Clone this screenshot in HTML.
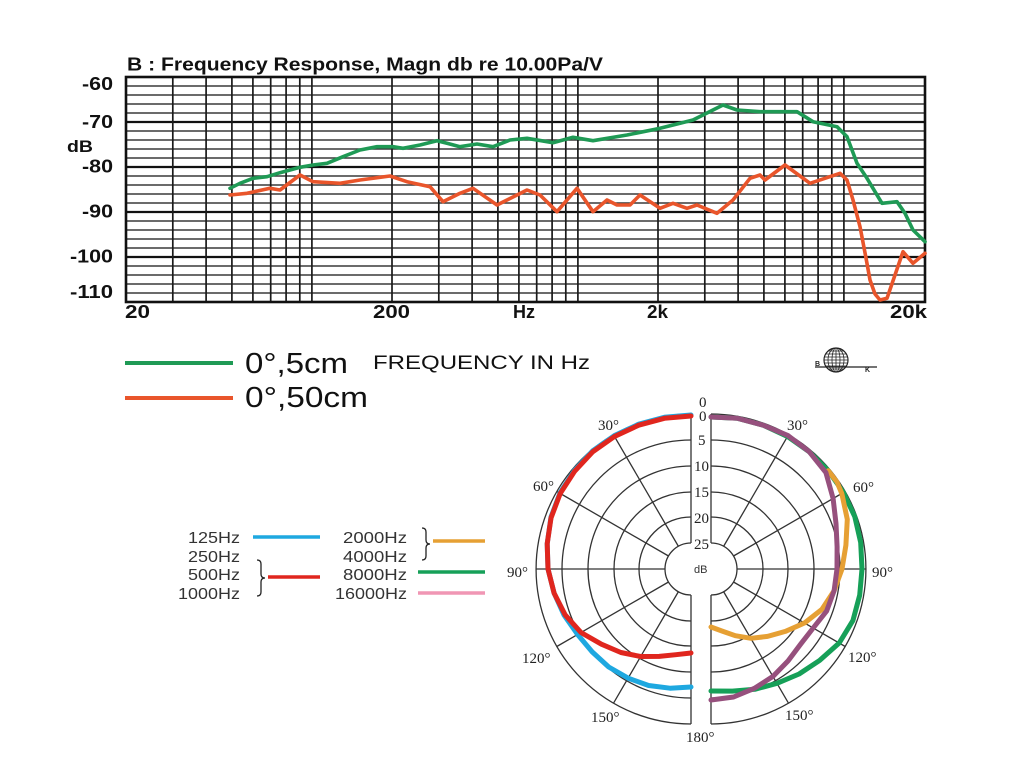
<!DOCTYPE html>
<html>
<head>
<meta charset="utf-8">
<style>
  html,body{margin:0;padding:0;background:#fff;}
  svg{display:block;}
  .ax{font-family:"Liberation Sans",sans-serif;font-weight:bold;fill:#111;}
  .lg{font-family:"Liberation Sans",sans-serif;fill:#111;}
  .pl{font-family:"Liberation Serif",serif;fill:#222;font-size:15px;}
  .pg{font-family:"Liberation Sans",sans-serif;fill:#333;font-size:16px;}
</style>
</head>
<body>
<svg width="1024" height="767" viewBox="0 0 1024 767" xmlns="http://www.w3.org/2000/svg">
  <rect width="1024" height="767" fill="#fff"/>

  <!-- Title -->
  <text class="ax" x="127" y="70.5" font-size="18" textLength="476" lengthAdjust="spacingAndGlyphs">B : Frequency Response, Magn db re 10.00Pa/V</text>

  <!-- Horizontal grid -->
  <g stroke="#3a3a3a" stroke-width="1.4">
    <line x1="126" y1="86" x2="925" y2="86"/>
    <line x1="126" y1="95" x2="925" y2="95"/>
    <line x1="126" y1="104" x2="925" y2="104"/>
    <line x1="126" y1="113" x2="925" y2="113"/>
    <line x1="126" y1="131" x2="925" y2="131"/>
    <line x1="126" y1="140" x2="925" y2="140"/>
    <line x1="126" y1="149" x2="925" y2="149"/>
    <line x1="126" y1="158" x2="925" y2="158"/>
    <line x1="126" y1="176" x2="925" y2="176"/>
    <line x1="126" y1="185" x2="925" y2="185"/>
    <line x1="126" y1="194" x2="925" y2="194"/>
    <line x1="126" y1="203" x2="925" y2="203"/>
    <line x1="126" y1="221" x2="925" y2="221"/>
    <line x1="126" y1="230" x2="925" y2="230"/>
    <line x1="126" y1="239" x2="925" y2="239"/>
    <line x1="126" y1="248" x2="925" y2="248"/>
    <line x1="126" y1="266" x2="925" y2="266"/>
    <line x1="126" y1="275" x2="925" y2="275"/>
    <line x1="126" y1="284" x2="925" y2="284"/>
    <line x1="126" y1="293" x2="925" y2="293"/>
  </g>
  <g stroke="#111" stroke-width="2.2">
    <line x1="126" y1="122" x2="925" y2="122"/>
    <line x1="126" y1="167" x2="925" y2="167"/>
    <line x1="126" y1="212" x2="925" y2="212"/>
    <line x1="126" y1="257" x2="925" y2="257"/>
  </g>
  <!-- Vertical grid -->
  <g stroke="#1a1a1a" stroke-width="1.7">
    <line x1="172.8" y1="77" x2="172.8" y2="302"/>
    <line x1="206.1" y1="77" x2="206.1" y2="302"/>
    <line x1="231.9" y1="77" x2="231.9" y2="302"/>
    <line x1="252.9" y1="77" x2="252.9" y2="302"/>
    <line x1="270.7" y1="77" x2="270.7" y2="302"/>
    <line x1="286.1" y1="77" x2="286.1" y2="302"/>
    <line x1="299.8" y1="77" x2="299.8" y2="302"/>
    <line x1="311.9" y1="77" x2="311.9" y2="302"/>
    <line x1="392" y1="77" x2="392" y2="302"/>
    <line x1="438.8" y1="77" x2="438.8" y2="302"/>
    <line x1="472.1" y1="77" x2="472.1" y2="302"/>
    <line x1="497.9" y1="77" x2="497.9" y2="302"/>
    <line x1="518.9" y1="77" x2="518.9" y2="302"/>
    <line x1="536.7" y1="77" x2="536.7" y2="302"/>
    <line x1="552.1" y1="77" x2="552.1" y2="302"/>
    <line x1="565.8" y1="77" x2="565.8" y2="302"/>
    <line x1="577.9" y1="77" x2="577.9" y2="302"/>
    <line x1="658" y1="77" x2="658" y2="302"/>
    <line x1="704.8" y1="77" x2="704.8" y2="302"/>
    <line x1="738.1" y1="77" x2="738.1" y2="302"/>
    <line x1="763.9" y1="77" x2="763.9" y2="302"/>
    <line x1="784.9" y1="77" x2="784.9" y2="302"/>
    <line x1="802.7" y1="77" x2="802.7" y2="302"/>
    <line x1="818.1" y1="77" x2="818.1" y2="302"/>
    <line x1="831.8" y1="77" x2="831.8" y2="302"/>
    <line x1="843.9" y1="77" x2="843.9" y2="302"/>
  </g>
  <rect x="126" y="77" width="799" height="225" fill="none" stroke="#111" stroke-width="2.6"/>

  <!-- Curves -->
  <polyline fill="none" stroke="#1f9a55" stroke-width="3.6" stroke-linejoin="round" stroke-linecap="round"
    points="230,188.3 240,183.3 253,178.3 267,176.7 280,172.7 300,167.3 313,165 327,163.3 343,156.7 360,150 377,146.7 393,146.7 403,148.3 420,145 437,140.7 447,143.3 460,146.7 477,144 493,146.7 510,140 527,138.3 553,142.7 573,137.3 593,140.7 627,135 660,128.3 693,120 723,105 737,110 760,111.7 797,111.7 813,121.7 837,126.7 847,136.7 857,163.3 867,178.3 882,203.3 897,201.7 905,213.3 913,230 925,241.7"/>
  <polyline fill="none" stroke="#e9552b" stroke-width="3.6" stroke-linejoin="round" stroke-linecap="round"
    points="230,195 247,193.3 270,188.3 280,190 300,175 313,181.7 340,183.3 360,180 390,176 407,181.7 430,186.7 443,201.7 460,193.3 473,188.3 497,205 527,190 540,195 557,211.7 577,188.3 593,211.7 607,200 617,205 630,205 640,195 660,208.3 673,203.3 687,208.3 697,205 717,213.3 733,200 750,178.3 760,175 765,180 785,165 810,183.3 840,173.3 847,180 853,200 860,226.7 866,258 870,280 875,294 880,300 887,298.3 895,275 903,251.7 913,263.3 925,253.3"/>

  <!-- Axis labels -->
  <text class="ax" x="82" y="90" font-size="18" textLength="31" lengthAdjust="spacingAndGlyphs">-60</text>
  <text class="ax" x="82" y="128" font-size="18" textLength="31" lengthAdjust="spacingAndGlyphs">-70</text>
  <text class="ax" x="67" y="152" font-size="17" textLength="26" lengthAdjust="spacingAndGlyphs">dB</text>
  <text class="ax" x="82" y="172.5" font-size="18" textLength="31" lengthAdjust="spacingAndGlyphs">-80</text>
  <text class="ax" x="82" y="217.5" font-size="18" textLength="31" lengthAdjust="spacingAndGlyphs">-90</text>
  <text class="ax" x="70" y="262.5" font-size="18" textLength="43" lengthAdjust="spacingAndGlyphs">-100</text>
  <text class="ax" x="70" y="298" font-size="18" textLength="43" lengthAdjust="spacingAndGlyphs">-110</text>

  <text class="ax" x="125" y="318" font-size="18" textLength="25" lengthAdjust="spacingAndGlyphs">20</text>
  <text class="ax" x="373" y="318" font-size="18" textLength="37" lengthAdjust="spacingAndGlyphs">200</text>
  <text class="ax" x="513" y="318" font-size="18" textLength="22" lengthAdjust="spacingAndGlyphs">Hz</text>
  <text class="ax" x="647" y="318" font-size="18" textLength="21" lengthAdjust="spacingAndGlyphs">2k</text>
  <text class="ax" x="890" y="318" font-size="18" textLength="37" lengthAdjust="spacingAndGlyphs">20k</text>

  <!-- Legend -->
  <line x1="125" y1="363" x2="233" y2="363" stroke="#1f9a55" stroke-width="4"/>
  <line x1="125" y1="398" x2="233" y2="398" stroke="#e9552b" stroke-width="4"/>
  <text class="lg" x="245" y="373" font-size="29" textLength="103" lengthAdjust="spacingAndGlyphs">0°,5cm</text>
  <text class="lg" x="245" y="407" font-size="29" textLength="123" lengthAdjust="spacingAndGlyphs">0°,50cm</text>
  <text class="lg" x="373" y="369" font-size="19" textLength="217" lengthAdjust="spacingAndGlyphs">FREQUENCY IN Hz</text>

  <!-- B&K logo -->
  <g stroke="#222" fill="none" stroke-width="0.8">
    <clipPath id="gc"><circle cx="836" cy="360" r="12"/></clipPath>
    <circle cx="836" cy="360" r="12" stroke-width="1.2"/>
    <g clip-path="url(#gc)">
      <line x1="822" y1="351" x2="850" y2="351"/>
      <line x1="822" y1="354" x2="850" y2="354"/>
      <line x1="822" y1="357" x2="850" y2="357"/>
      <line x1="822" y1="360" x2="850" y2="360"/>
      <line x1="822" y1="363" x2="850" y2="363"/>
      <line x1="822" y1="366" x2="850" y2="366"/>
      <line x1="822" y1="369" x2="850" y2="369"/>
      <ellipse cx="836" cy="360" rx="4" ry="12"/>
      <ellipse cx="836" cy="360" rx="8" ry="12"/>
      <line x1="836" y1="348" x2="836" y2="372"/>
    </g>
    <line x1="815" y1="367" x2="877" y2="367" stroke-width="1.2"/>
  </g>
  <text x="815" y="366" font-family="Liberation Sans, sans-serif" font-weight="bold" font-size="7" fill="#222">B</text>
  <text x="865" y="372" font-family="Liberation Sans, sans-serif" font-weight="bold" font-size="7" fill="#222">K</text>

  <!-- Polar legend -->
  <text class="pg" x="188" y="543" textLength="52" lengthAdjust="spacingAndGlyphs">125Hz</text>
  <text class="pg" x="188" y="562" textLength="52" lengthAdjust="spacingAndGlyphs">250Hz</text>
  <text class="pg" x="188" y="580" textLength="52" lengthAdjust="spacingAndGlyphs">500Hz</text>
  <text class="pg" x="178" y="599" textLength="62" lengthAdjust="spacingAndGlyphs">1000Hz</text>
  <text class="pg" x="343" y="543" textLength="64" lengthAdjust="spacingAndGlyphs">2000Hz</text>
  <text class="pg" x="343" y="562" textLength="64" lengthAdjust="spacingAndGlyphs">4000Hz</text>
  <text class="pg" x="343" y="580" textLength="64" lengthAdjust="spacingAndGlyphs">8000Hz</text>
  <text class="pg" x="335" y="599" textLength="72" lengthAdjust="spacingAndGlyphs">16000Hz</text>
  <path d="M257,560 q4,0 4,4 v10 q0,4 4,4 q-4,0 -4,4 v10 q0,4 -4,4" fill="none" stroke="#222" stroke-width="1.3"/>
  <path d="M422,528 q4,0 4,4 v8 q0,4 4,4 q-4,0 -4,4 v8 q0,4 -4,4" fill="none" stroke="#222" stroke-width="1.3"/>
  <line x1="253" y1="537" x2="320" y2="537" stroke="#1ea8e0" stroke-width="3.5"/>
  <line x1="268" y1="577" x2="320" y2="577" stroke="#e0261e" stroke-width="3.5"/>
  <line x1="433" y1="541" x2="485" y2="541" stroke="#e6a034" stroke-width="3.5"/>
  <line x1="418" y1="572" x2="485" y2="572" stroke="#16a058" stroke-width="3.5"/>
  <line x1="418" y1="593" x2="485" y2="593" stroke="#f096b4" stroke-width="3.5"/>

  <!-- Polar grid -->
  <g fill="none" stroke="#333" stroke-width="1.3">
    <path d="M691,414 A155,155 0 0 0 691,724"/>
    <path d="M691,440 A129,129 0 0 0 691,698"/>
    <path d="M691,466 A103,103 0 0 0 691,672"/>
    <path d="M691,492 A77,77 0 0 0 691,646"/>
    <path d="M691,517 A52,52 0 0 0 691,621"/>
    <path d="M691,543 A26,26 0 0 0 691,595"/>
    <path d="M711,414 A155,155 0 0 1 711,724"/>
    <path d="M711,440 A129,129 0 0 1 711,698"/>
    <path d="M711,466 A103,103 0 0 1 711,672"/>
    <path d="M711,492 A77,77 0 0 1 711,646"/>
    <path d="M711,517 A52,52 0 0 1 711,621"/>
    <path d="M711,543 A26,26 0 0 1 711,595"/>
    <line x1="691" y1="414" x2="691" y2="543"/>
    <line x1="691" y1="595" x2="691" y2="724"/>
    <line x1="711" y1="414" x2="711" y2="543"/>
    <line x1="711" y1="595" x2="711" y2="724"/>
    <line x1="678.5" y1="546.5" x2="613.5" y2="434.8"/>
    <line x1="668.5" y1="556" x2="556.8" y2="491.5"/>
    <line x1="665" y1="569" x2="536" y2="569"/>
    <line x1="668.5" y1="582" x2="556.8" y2="646.5"/>
    <line x1="678.5" y1="591.5" x2="613.5" y2="703.2"/>
    <line x1="723.5" y1="546.5" x2="788.5" y2="434.8"/>
    <line x1="733.5" y1="556" x2="845.2" y2="491.5"/>
    <line x1="737" y1="569" x2="866" y2="569"/>
    <line x1="733.5" y1="582" x2="845.2" y2="646.5"/>
    <line x1="723.5" y1="591.5" x2="788.5" y2="703.2"/>
  </g>

  <!-- Polar curves left -->
  <polyline fill="none" stroke="#1ea8e0" stroke-width="5" stroke-linejoin="round" stroke-linecap="round"
    points="691,415 664.4,417.3 638.7,424.2 614.5,435.5 592.7,450.8 574.6,470.3 560.2,492.5 551,517 547.2,543.7 548,569 554.1,593.1 564.1,615.2 577.6,634.5 592.2,651.9 608.7,667 628,678.1 648.6,685.5 670,688.2 691,687"/>
  <polyline fill="none" stroke="#e0261e" stroke-width="5" stroke-linejoin="round" stroke-linecap="round"
    points="691,416 664.4,418.3 638.7,425.2 614.5,436.5 592.7,451.8 574.6,471.3 560.2,493.5 551,518 547.2,543.7 548,569 554.1,593.1 565.1,614.8 581,632.5 601.4,644.2 620.9,652.5 640.5,656.5 659.2,656.4 675.9,654.7 691,653"/>

  <!-- Polar curves right -->
  <polyline fill="none" stroke="#16a058" stroke-width="5" stroke-linejoin="round" stroke-linecap="round"
    points="711,417 737.6,418.3 763.3,425.2 787.5,436.5 809.3,451.8 828.2,470.7 843.5,492.5 854.8,516.7 860.7,542.6 862,569 859.7,595.2 852.9,620.6 839.2,643 819.8,660.3 799.1,674 777,683.3 754.8,689.3 732.5,691.1 711,691"/>
  <polyline fill="none" stroke="#e6a034" stroke-width="5" stroke-linejoin="round" stroke-linecap="round"
    points="828.2,470.7 837,482 841.8,493.5 847.3,519.4 845.9,545.2 842,569 834.1,590.7 821.9,609.4 804.5,623 785.3,631.4 767.6,636.4 751,638.3 735.3,635.7 721.9,631 711,627"/>
  <polyline fill="none" stroke="#96507d" stroke-width="5" stroke-linejoin="round" stroke-linecap="round"
    points="711,417 737.6,418.3 763.3,425.2 788,435.6 809.3,451.8 825.9,472.6 833.1,498.5 836,523.5 837.1,546.8 837,569 834.1,590.7 826.6,611.1 813.2,628 800.6,644.2 788.1,660.9 773,676.4 754.4,688.3 733.6,697 711,700"/>

  <!-- Polar labels -->
  <text class="pl" x="699" y="407">0</text>
  <text class="pl" x="699" y="421">0</text>
  <text class="pl" x="698" y="445">5</text>
  <text class="pl" x="694" y="471">10</text>
  <text class="pl" x="694" y="497">15</text>
  <text class="pl" x="694" y="523">20</text>
  <text class="pl" x="694" y="549">25</text>
  <text x="694" y="573" font-family="Liberation Sans, sans-serif" font-size="11" fill="#333">dB</text>

  <text class="pl" x="598" y="430">30°</text>
  <text class="pl" x="533" y="491">60°</text>
  <text class="pl" x="507" y="577">90°</text>
  <text class="pl" x="522" y="663">120°</text>
  <text class="pl" x="591" y="722">150°</text>
  <text class="pl" x="686" y="742">180°</text>

  <text class="pl" x="787" y="430">30°</text>
  <text class="pl" x="853" y="492">60°</text>
  <text class="pl" x="872" y="577">90°</text>
  <text class="pl" x="848" y="662">120°</text>
  <text class="pl" x="785" y="720">150°</text>
</svg>
</body>
</html>
